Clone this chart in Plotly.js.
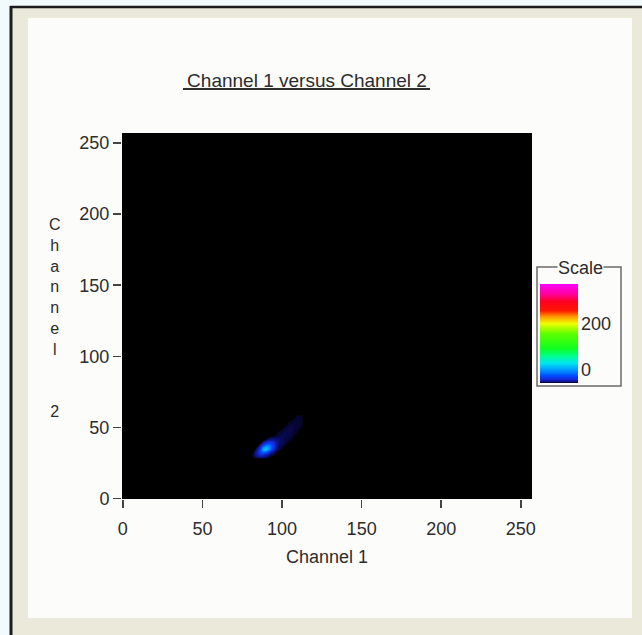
<!DOCTYPE html>
<html>
<head>
<meta charset="utf-8">
<script src="https://cdn.plot.ly/plotly-3.0.1.min.js"></script>
<style>
  html, body { margin: 0; padding: 0; background: #ffffff; }
  #chart { width: 642px; height: 635px; }
</style>
</head>
<body>
<div id="chart"></div>
<script>
// ---------------- DATA ----------------
const chartTitle = "Channel 1 versus Channel 2";
const xTitle = "Channel 1";
const yTitle = "Channel 2";
const axisTicks = [0, 50, 100, 150, 200, 250];
const scaleTicks = [0, 200];
const scaleTitle = "Scale";

// 2-D histogram: non-empty rows of counts (Channel 2 bin, first Channel 1 bin, counts)
const rowY = [29, 30, 31, 32, 33, 34, 35, 36, 37, 38, 39, 40, 41, 42, 43,
              44, 45, 46, 47, 48, 49, 50, 51, 52, 53, 54, 55, 56, 57, 58];
const rowStartX = [83, 82, 82, 82, 83, 83, 84, 84, 85, 86, 87, 88, 89, 90, 92,
                   94, 96, 97, 98, 99, 100, 101, 102, 103, 104, 105, 106, 107, 108, 109];
const rowCounts = [
  [2, 3, 4, 5, 5, 4, 3, 2],
  [2, 4, 6, 8, 9, 9, 8, 6, 4, 3, 2],
  [3, 5, 8, 12, 15, 16, 15, 12, 9, 6, 4, 3, 2],
  [3, 6, 10, 16, 22, 26, 27, 24, 19, 13, 8, 5, 3, 2],
  [5, 9, 16, 26, 35, 42, 42, 35, 27, 18, 11, 6, 4, 2],
  [4, 8, 15, 28, 46, 58, 62, 56, 42, 30, 19, 11, 6, 3, 2],
  [6, 12, 24, 44, 62, 72, 70, 60, 43, 30, 18, 10, 5, 3, 2],
  [4, 9, 18, 34, 54, 66, 70, 62, 48, 35, 22, 13, 7, 4, 2, 2],
  [6, 12, 22, 38, 52, 60, 58, 48, 38, 26, 16, 9, 5, 3, 2, 2],
  [6, 12, 22, 32, 40, 42, 38, 30, 21, 14, 8, 5, 3, 2, 2, 2],
  [6, 11, 18, 25, 29, 28, 24, 18, 12, 8, 5, 4, 3, 2, 2, 2],
  [5, 9, 13, 17, 18, 17, 14, 10, 7, 5, 4, 3, 3, 2, 2, 2],
  [4, 6, 9, 10, 10, 9, 8, 6, 5, 4, 3, 3, 2, 2, 2, 1],
  [3, 4, 5, 6, 6, 6, 5, 5, 4, 3, 3, 2, 2, 2, 1, 1],
  [2, 3, 3, 3, 3, 3, 3, 3, 3, 2, 2, 2, 2, 1, 1],
  [1, 2, 2, 2, 2, 3, 3, 3, 2, 2, 2, 1, 1],
  [1, 1, 2, 2, 2, 3, 3, 2, 2, 2, 1, 1],
  [1, 2, 2, 2, 3, 3, 2, 2, 2, 1, 1, 1],
  [1, 1, 2, 2, 2, 3, 2, 2, 2, 1, 1, 1],
  [1, 1, 2, 2, 2, 2, 2, 2, 1, 1, 1, 1],
  [1, 2, 2, 2, 2, 2, 2, 1, 1, 1, 1],
  [1, 1, 2, 2, 2, 2, 2, 1, 1, 1, 1],
  [1, 1, 2, 2, 2, 2, 1, 1, 1, 1],
  [1, 1, 1, 2, 2, 1, 1, 1, 1, 1],
  [1, 1, 1, 2, 2, 1, 1, 1, 1],
  [1, 1, 1, 1, 1, 1, 1, 1],
  [1, 1, 1, 1, 1, 1, 1],
  [1, 1, 1, 1, 1, 1],
  [1, 1, 1, 1, 1],
  [1, 1, 1, 1]
];
const scaleMax = 430;

// ---------------- BUILD GRID ----------------
const gx0 = 70, gx1 = 125, gy0 = 20, gy1 = 70;
const binX = [], binY = [];
for (let i = gx0; i <= gx1; i++) binX.push(i);
for (let j = gy0; j <= gy1; j++) binY.push(j);
const z = binY.map(() => binX.map(() => 0));
rowY.forEach((yv, r) => {
  rowCounts[r].forEach((c, k) => {
    z[yv - gy0][rowStartX[r] + k - gx0] = c;
  });
});

// ---------------- LAYOUT HELPERS ----------------
const W = 642, H = 635;
const M = { l: 122, r: 110, t: 133, b: 136 };
const PW = W - M.l - M.r, PH = H - M.t - M.b;
const px = v => (v - M.l) / PW;
const py = v => (H - M.b - v) / PH;

const FONT = "Liberation Sans, Arial, sans-serif";
const TXT = "#2c2c2c";

const trace = {
  type: "heatmap",
  x: binX, y: binY, z: z,
  zmin: 0, zmax: scaleMax,
  zsmooth: "best",
  hoverinfo: "skip",
  colorscale: [
    [0, "#000000"], [0.002, "#05052c"], [0.012, "#0c1280"], [0.035, "#1828d8"], [0.07, "#0048ff"],
    [0.13, "#0098ff"], [0.2, "#00e6f0"], [0.27, "#00ff90"], [0.35, "#10ff20"],
    [0.5, "#60ff00"], [0.6, "#eeff00"], [0.67, "#ff9800"], [0.73, "#ff1800"],
    [0.82, "#ff0020"], [0.9, "#ff00a0"], [1, "#ff00ff"]
  ],
  colorbar: {
    thickness: 38, thicknessmode: "pixels",
    len: 99, lenmode: "pixels",
    x: px(540), xanchor: "left", xpad: 0,
    y: py(333.5), yanchor: "middle", ypad: 0,
    tickvals: scaleTicks,
    ticktext: scaleTicks.map(String),
    ticks: "outside", ticklen: 3, tickcolor: "rgba(0,0,0,0)",
    ticklabelposition: "outside top",
    tickfont: { family: FONT, size: 18, color: TXT },
    outlinewidth: 0,
    bgcolor: "rgba(0,0,0,0)"
  }
};

const axisCommon = {
  tickvals: axisTicks,
  ticktext: axisTicks.map(String),
  ticks: "outside", ticklen: 8, tickwidth: 1.5, tickcolor: "#444",
  showgrid: false, zeroline: false, showline: false,
  tickfont: { family: FONT, size: 18, color: TXT },
  fixedrange: true
};

const yLetters = ["C", "h", "a", "n", "n", "e", "l", "", "", "2"];

const layout = {
  width: W, height: H,
  margin: M,
  paper_bgcolor: "#ebe9d9",
  plot_bgcolor: "#000000",
  showlegend: false,
  title: {
    text: chartTitle,
    font: { family: FONT, size: 19, color: TXT },
    xref: "paper", x: px(307), xanchor: "center",
    yref: "container", y: 1 - 80 / H, yanchor: "middle"
  },
  xaxis: Object.assign({}, axisCommon, {
    range: [-0.5, 257],
    ticklabelstandoff: 5,
    title: { text: xTitle, font: { family: FONT, size: 18, color: TXT }, standoff: 12 }
  }),
  yaxis: Object.assign({}, axisCommon, {
    range: [-0.3, 257]
  }),
  shapes: [
    // page background behind the window
    { type: "rect", xref: "paper", yref: "paper", layer: "below",
      x0: px(0), x1: px(10), y0: py(0), y1: py(H), fillcolor: "#f2fafc", line: { width: 0 } },
    { type: "rect", xref: "paper", yref: "paper", layer: "below",
      x0: px(0), x1: px(W), y0: py(0), y1: py(6), fillcolor: "#f2fafc", line: { width: 0 } },
    // window border
    { type: "line", xref: "paper", yref: "paper", layer: "below",
      x0: px(11), x1: px(11), y0: py(6), y1: py(H), line: { color: "#1c1c1c", width: 3 } },
    { type: "line", xref: "paper", yref: "paper", layer: "below",
      x0: px(10), x1: px(W), y0: py(7), y1: py(7), line: { color: "#1c1c1c", width: 2.5 } },
    // white panel
    { type: "rect", xref: "paper", yref: "paper", layer: "below",
      x0: px(28), x1: px(632), y0: py(18), y1: py(618), fillcolor: "#fcfcfa", line: { width: 0 } },
    // black plot area (drawn over the panel)
    { type: "rect", xref: "paper", yref: "paper", layer: "below",
      x0: 0, x1: 1, y0: 0, y1: 1, fillcolor: "#000000", line: { width: 0 } },
    // title underline
    { type: "line", xref: "paper", yref: "paper",
      x0: px(183), x1: px(430), y0: py(89), y1: py(89), line: { color: "#2e2e2e", width: 2 } },
    // scale group box
    { type: "rect", xref: "paper", yref: "paper",
      x0: px(537), x1: px(621), y0: py(267), y1: py(386), line: { color: "#6a6a6a", width: 1.5 } }
  ],
  annotations: [
    { text: yLetters.join("<br>"), xref: "paper", yref: "paper",
      x: px(55), y: py(214), xanchor: "center", yanchor: "top", showarrow: false, align: "center",
      font: { family: FONT, size: 16, color: TXT } },
    { text: scaleTitle, xref: "paper", yref: "paper",
      x: px(580), y: py(268), xanchor: "center", yanchor: "middle", showarrow: false,
      bgcolor: "#fcfcfa", borderpad: 0,
      font: { family: FONT, size: 18, color: TXT } }
  ]
};

Plotly.newPlot("chart", [trace], layout, { displayModeBar: false, staticPlot: true });
</script>
</body>
</html>
